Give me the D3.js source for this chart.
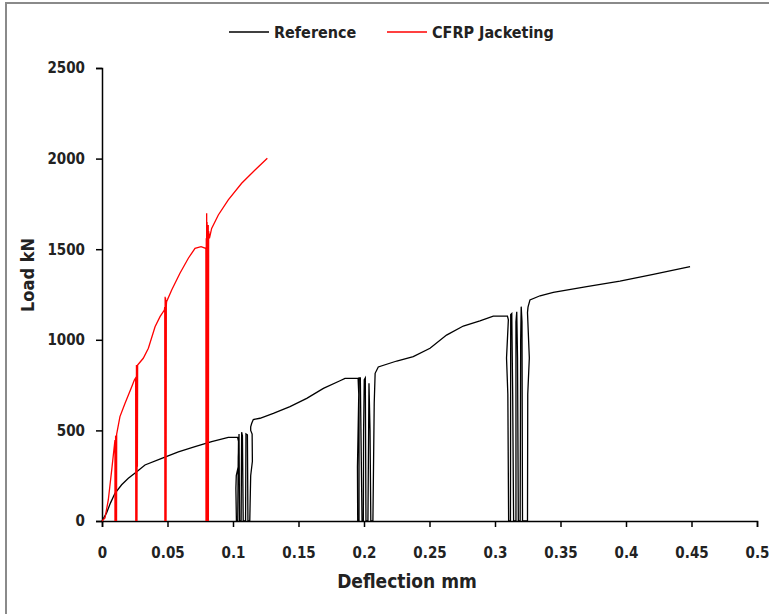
<!DOCTYPE html>
<html>
<head>
<meta charset="utf-8">
<script src="https://cdn.jsdelivr.net/npm/d3@7"></script>
<style>
  body { margin: 0; background: #fff; }
  svg { display: block; }
  text { font-family: "DejaVu Sans Condensed", "DejaVu Sans", sans-serif; font-weight: bold; fill: #222; }
  .axis text { font-size: 15px; }
  .axis path, .axis line { stroke: #000; stroke-width: 1.5; }
</style>
</head>
<body>
<svg width="769" height="614"></svg>
<script>
// Reference specimen: deflection (mm) and load (kN)
const refX = [0, 0.0035, 0.0065, 0.0099, 0.015, 0.0201, 0.0265, 0.0328, 0.0456, 0.0583, 0.071, 0.0837, 0.0964, 0.1035,
  0.1042, 0.104, 0.1025, 0.1022, 0.1026, 0.1036, 0.104, 0.1046, 0.105, 0.1062, 0.1066, 0.1072, 0.1078, 0.1096, 0.1099, 0.111, 0.1114, 0.1128, 0.1135, 0.1148, 0.1146, 0.1135, 0.1135, 0.1143, 0.1155,
  0.1206, 0.1308, 0.1435, 0.1563, 0.169, 0.1817, 0.1855, 0.1955,
  0.196, 0.195, 0.1952, 0.1962, 0.1962, 0.1972, 0.1975, 0.1985, 0.1995, 0.1997, 0.2002, 0.201, 0.2015, 0.203, 0.2038, 0.2046, 0.2052, 0.2068, 0.2078, 0.2085, 0.2109,
  0.225, 0.2376, 0.2504, 0.263, 0.2758, 0.2885, 0.2987, 0.3095,
  0.3102, 0.3088, 0.3098, 0.3104, 0.3118, 0.312, 0.3128, 0.3135, 0.3142, 0.316, 0.316, 0.3166, 0.3172, 0.3178, 0.3192, 0.3196, 0.32, 0.3206, 0.321, 0.3248, 0.325, 0.3262, 0.3248, 0.3252,
  0.3267, 0.3344, 0.3445, 0.37, 0.3954, 0.4208, 0.4489]
const refY = [0, 45, 100, 153, 200, 236, 272, 309, 346, 382, 410, 438, 462, 462,
  440, 300, 250, 180, 0, 0, 350, 480, 0, 0, 490, 470, 0, 0, 480, 475, 0, 0, 250, 330, 480, 500, 520, 539, 560,
  567, 594, 631, 677, 732, 774, 787, 787,
  700, 300, 0, 0, 790, 790, 600, 0, 0, 500, 780, 790, 0, 0, 760, 500, 0, 0, 650, 815, 850,
  883, 907, 953, 1026, 1076, 1105, 1131, 1131,
  1110, 900, 700, 0, 0, 1140, 1145, 700, 0, 0, 1100, 1155, 900, 0, 0, 1000, 1183, 1100, 0, 0, 700, 900, 1150, 1180,
  1220, 1243, 1262, 1293, 1324, 1361, 1404]

// CFRP jacketed specimen
const cfrpX = [0, 0.0023, 0.0048, 0.0074, 0.0099,
  0.0099, 0.0101, 0.0102, 0.0104, 0.0105, 0.0107, 0.0108, 0.011, 0.0111, 0.0112,
  0.0137, 0.0176, 0.0227, 0.0247,
  0.0257, 0.0258, 0.026, 0.0261, 0.0263, 0.0264, 0.0266, 0.0267, 0.0269, 0.027, 0.0272,
  0.0315, 0.0354, 0.0405, 0.0443, 0.0476,
  0.0479, 0.048, 0.0482, 0.0483, 0.0485, 0.0486, 0.0488, 0.0489, 0.0491, 0.0493,
  0.0532, 0.0595, 0.0659, 0.071, 0.0756, 0.0791,
  0.0793, 0.0794, 0.0796, 0.0797, 0.0799, 0.08, 0.0802, 0.0803, 0.0805, 0.0806, 0.0808, 0.0809, 0.0811, 0.0812, 0.0814, 0.082, 0.0837,
  0.0888, 0.0964, 0.1066, 0.1168, 0.1262]
const cfrpY = [0, 17, 116, 281, 447,
  0, 400, 0, 470, 0, 420, 0, 475, 0, 480,
  576, 650, 741, 778,
  790, 0, 680, 0, 861, 0, 700, 0, 760, 300, 861,
  898, 953, 1072, 1128, 1164,
  1180, 0, 1238, 0, 1230, 0, 1220, 0, 1190, 1210,
  1275, 1367, 1450, 1505, 1514, 1505,
  1500, 0, 1560, 0, 1698, 0, 1650, 0, 1480, 0, 1450, 0, 1634, 0, 1600, 1560, 1615,
  1689, 1772, 1864, 1937, 2002]

const xTicks = [0, 0.05, 0.1, 0.15, 0.2, 0.25, 0.3, 0.35, 0.4, 0.45, 0.5]
const yTicks = [0, 500, 1000, 1500, 2000, 2500]
const seriesNames = ['Reference', 'CFRP Jacketing']
const seriesColors = ['#000000', '#ff0000']

const svg = d3.select('svg')

// outer frame
svg.append('rect')
  .attr('x', 6).attr('y', 3)
  .attr('width', 800).attr('height', 700)
  .attr('fill', 'none')
  .attr('stroke', '#8a8a8a')
  .attr('stroke-width', 2)

const xScale = d3.scaleLinear().domain([0, 0.5]).range([102, 757])
const yScale = d3.scaleLinear().domain([0, 2500]).range([521, 68])

const xAxis = d3.axisBottom(xScale)
  .tickValues(xTicks)
  .tickFormat(d => String(+d.toFixed(2)))
  .tickSize(6)
  .tickPadding(20)

svg.append('g')
  .attr('class', 'axis')
  .attr('transform', `translate(0, ${yScale(0)})`)
  .call(xAxis)

const yAxis = d3.axisLeft(yScale)
  .tickValues(yTicks)
  .tickSize(6)
  .tickPadding(11)
  .tickFormat(d3.format('d'))

svg.append('g')
  .attr('class', 'axis')
  .attr('transform', `translate(${xScale(0)}, 0)`)
  .call(yAxis)

const line = d3.line()
  .x(d => xScale(d[0]))
  .y(d => yScale(d[1]))

const refData = d3.zip(refX, refY)
const cfrpData = d3.zip(cfrpX, cfrpY)

svg.append('path')
  .attr('d', line(refData))
  .attr('fill', 'none')
  .attr('stroke', seriesColors[0])
  .attr('stroke-width', 1.3)

svg.append('path')
  .attr('d', line(cfrpData))
  .attr('fill', 'none')
  .attr('stroke', seriesColors[1])
  .attr('stroke-width', 1.3)

// axis titles
svg.append('text')
  .attr('x', 407)
  .attr('y', 588)
  .attr('text-anchor', 'middle')
  .style('font-size', '19px')
  .text('Deflection mm')

svg.append('text')
  .attr('transform', 'translate(34, 275) rotate(-90)')
  .attr('text-anchor', 'middle')
  .style('font-size', '18px')
  .text('Load kN')

// legend
const legendX = [229, 387]
seriesNames.forEach((name, i) => {
  svg.append('line')
    .attr('x1', legendX[i]).attr('x2', legendX[i] + 40)
    .attr('y1', 32).attr('y2', 32)
    .attr('stroke', seriesColors[i])
    .attr('stroke-width', 1.5)
  svg.append('text')
    .attr('x', legendX[i] + 45)
    .attr('y', 38)
    .style('font-size', '16px')
    .text(name)
})
</script>
</body>
</html>
